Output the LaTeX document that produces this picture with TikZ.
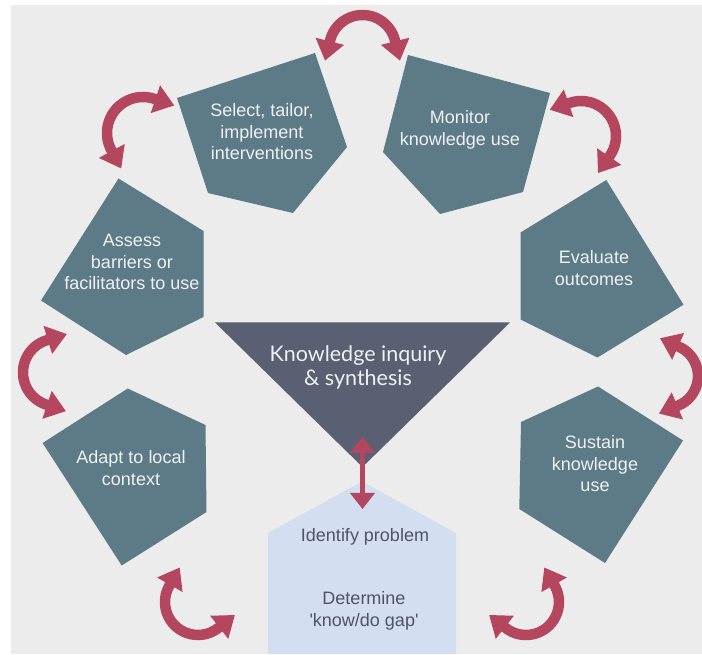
\documentclass[tikz,border=0pt]{standalone}
\usepackage{fontspec}
\setmainfont{Liberation Sans}
\newfontfamily\latofont{Lato}
\usetikzlibrary{arrows.meta, calc}

% centre, start angle, end angle, radius
\newcommand{\bentarrow}[4]{\draw[cyc] ($(#1)+(#2:#4)+(#2-90:21)$) -- ($(#1)+(#2:#4)$) arc[start angle=#2, end angle=#3, radius=#4] -- ++(#3+90:21);}

\begin{document}
\begin{tikzpicture}[x=1pt, y=1pt,
        pentext/.style={text=paletext, font=\fontsize{18}{21.5}\selectfont, align=center},
        housetext/.style={text=housegray, font=\fontsize{18}{21.5}\selectfont, align=center},
        cyc/.style={draw=arrowred, line width=10.5pt, {Triangle[width=28pt,length=20pt]}-{Triangle[width=28pt,length=20pt]}}]
        \definecolor{bggray}{HTML}{ECECEC}
        \definecolor{tealbox}{HTML}{5D7B87}
        \definecolor{darktri}{HTML}{5A6072}
        \definecolor{arrowred}{HTML}{B4475F}
        \definecolor{housefill}{HTML}{D3DFF1}
        \definecolor{housegray}{HTML}{4E5466}
        \definecolor{paletext}{HTML}{EEF2F6}

        \useasboundingbox (0,0) rectangle (702,654);
        \fill[white] (0,0) rectangle (702,654);
        \fill[bggray] (11,0) rectangle (702,649);

        \fill[tealbox] (177,556) -- (315,601) -- (347,507) -- (293,441) -- (208,461) -- cycle;
        \fill[tealbox] (408,599) -- (550,561) -- (523,462) -- (440,440) -- (383,502) -- cycle;
        \fill[tealbox] (118.5,475.5) -- (203.5,423) -- (203.5,337) -- (126,299) -- (41,353.5) -- cycle;
        \fill[tealbox] (127.7,265.5) -- (205.5,229) -- (206.5,142) -- (121.7,88.5) -- (42.6,211) -- cycle;
        \fill[tealbox] (606.3,474) -- (683.5,349.3) -- (597.5,296.5) -- (520.5,334.5) -- (520.5,421.5) -- cycle;
        \fill[tealbox] (598,267.5) -- (683,213.5) -- (605,91) -- (519.3,145) -- (521,232) -- cycle;

        \node[pentext] (select) at (262,522) {Select, tailor,\\implement\\interventions};
        \node[pentext] (monitor) at (460,524) {Monitor\\knowledge use};
        \node[pentext] (assess) at (132,392) {Assess\\barriers or\\facilitators to use};
        \node[pentext] (adapt) at (131,186) {Adapt to local\\context};
        \node[pentext] (evaluate) at (594,386) {Evaluate\\outcomes};
        \node[pentext] (sustain) at (595,190) {Sustain\\knowledge\\use};

        \fill[darktri] (215,331.5) -- (510,331.5) -- (362.5,187) -- cycle;
        \node[text=paletext, font=\latofont\fontsize{21.5}{24}\selectfont, align=center] (inquiry) at (358,287) {Knowledge inquiry\\\& synthesis};

        \fill[housefill] (268,0) -- (268,121) -- (362,172.5) -- (456,121) -- (456,0) -- cycle;
        \node[housetext] (identify) at (365,117) {Identify problem};
        \node[housetext] (gap) at (364,43) {Determine\\\textquotesingle know/do gap\textquotesingle};

        \coordinate (triend) at (362.5,217);
        \coordinate (houseend) at (362.5,145);
        \draw[draw=arrowred, line width=5pt, {Triangle[width=24pt,length=16pt]}-{Triangle[width=24pt,length=16pt]}] (triend) -- (houseend);

        \coordinate (topc) at (362.5,605.6);
        \coordinate (ulc) at (143,521);
        \coordinate (urc) at (581,518);
        \coordinate (leftc) at (56.8,281.5);
        \coordinate (rightc) at (666,278);
        \coordinate (blc) at (198,52);
        \coordinate (brc) at (526,52);

        \bentarrow{topc}{14}{166}{33.4}
        \bentarrow{ulc}{71.5}{208.3}{36}
        \bentarrow{urc}{-34.5}{109.1}{35}
        \bentarrow{leftc}{107.1}{251.5}{33.8}
        \bentarrow{rightc}{-67.4}{65.9}{32}
        \bentarrow{blc}{150.3}{308.2}{33}
        \bentarrow{brc}{-128.2}{29.7}{33}
\end{tikzpicture}
\end{document}
